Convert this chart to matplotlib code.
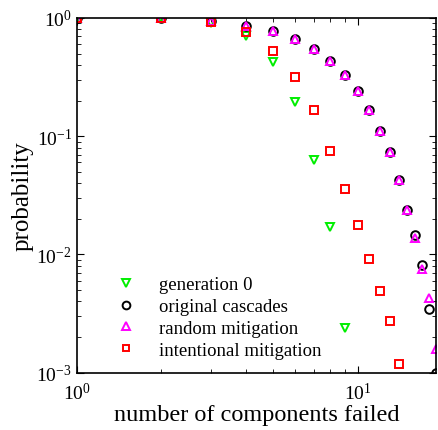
import numpy as np
import matplotlib
matplotlib.use('Agg')
import matplotlib.pyplot as plt

plt.rcParams['font.family'] = 'Liberation Serif'
plt.rcParams['mathtext.fontset'] = 'stix'

# datos
x_gen0 = [1, 2, 3, 4, 5, 6, 7, 8, 9]
p_gen0 = [1.0, 1.0, 0.90, 0.70, 0.424, 0.194, 0.0627, 0.0169, 0.00238]

x_orig = [1, 2, 3, 4, 5, 6, 7, 8, 9, 10, 11, 12, 13, 14, 15, 16, 17, 18, 19]
p_orig = [1.0, 1.0, 0.95, 0.86, 0.776, 0.664, 0.546, 0.432, 0.329, 0.241,
          0.166, 0.110, 0.0734, 0.0424, 0.0237, 0.0145, 0.0081, 0.00343, 0.0010]

x_rand = [1, 2, 3, 4, 5, 6, 7, 8, 9, 10, 11, 12, 13, 14, 15, 16, 17, 18, 19]
p_rand = [1.0, 1.0, 0.95, 0.86, 0.776, 0.664, 0.546, 0.432, 0.329, 0.241,
          0.166, 0.110, 0.0734, 0.0424, 0.0237, 0.0139, 0.0075, 0.00424, 0.0016]

x_int = [1, 2, 3, 4, 5, 6, 7, 8, 9, 10, 11, 12, 13, 14]
p_int = [1.0, 1.0, 0.925, 0.76, 0.525, 0.316, 0.166, 0.0749, 0.0356, 0.0176,
         0.0091, 0.00493, 0.00275, 0.00119]

fig = plt.figure(figsize=(4.39, 4.31), dpi=100)
ax = fig.add_axes([0.175, 0.133, 0.818, 0.823])

ms = 6.2
mew = 1.4
ax.plot(x_gen0, p_gen0, 'v', ms=ms, mew=mew, mfc='none', mec='#00ee00', label='generation 0')
ax.plot(x_orig, p_orig, 'o', ms=ms, mew=mew, mfc='none', mec='black', label='original cascades')
ax.plot(x_rand, p_rand, '^', ms=ms, mew=mew, mfc='none', mec='#ff00ff', label='random mitigation')
ax.plot(x_int, p_int, 's', ms=ms - 0.8, mew=mew, mfc='none', mec='#ff0000', label='intentional mitigation')

ax.set_xscale('log')
ax.set_yscale('log')
ax.set_xlim(1, 19)
ax.set_ylim(1e-3, 1)

ax.tick_params(which='both', direction='in', top=True, right=True, labelsize=14)
ax.tick_params(which='major', length=5)
ax.tick_params(which='minor', length=3)
ax.tick_params(axis='x', pad=7)
for s in ax.spines.values():
    s.set_linewidth(1.2)

ax.set_xlabel('number of components failed', fontsize=17.5, labelpad=0)
ax.set_ylabel('probability', fontsize=18, labelpad=2)

ax.legend(loc='lower left', bbox_to_anchor=(0.065, 0.018), frameon=False,
          fontsize=13.5, handletextpad=0.76, labelspacing=0.25, borderaxespad=0,
          markerscale=0.9)

plt.savefig('out.png', dpi=100)
